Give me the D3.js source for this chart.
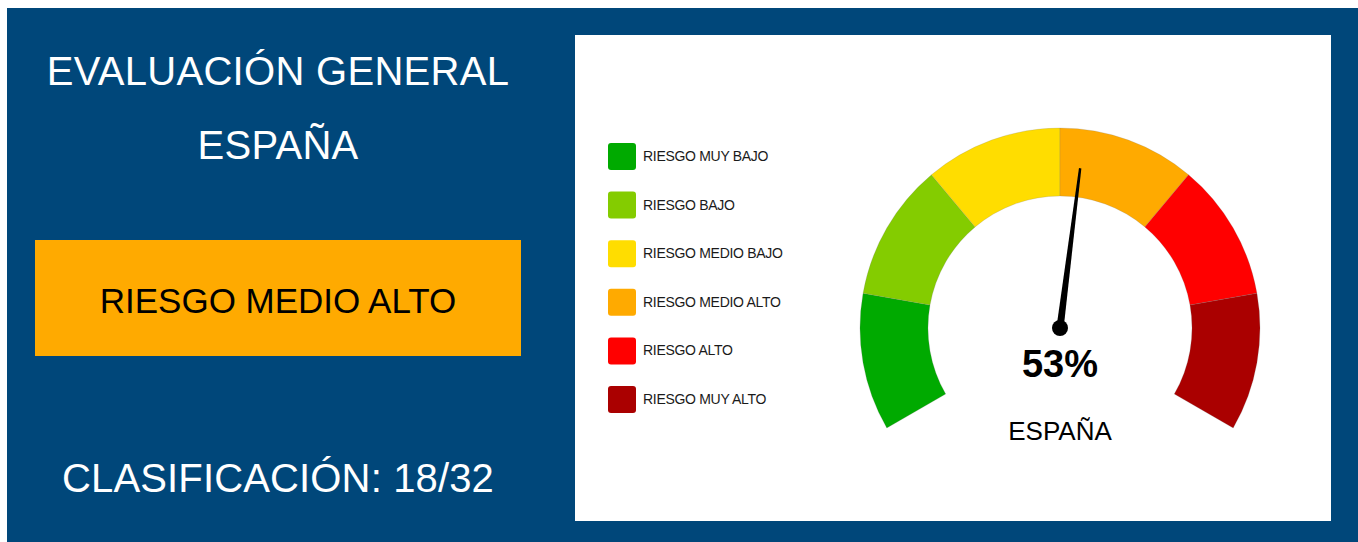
<!DOCTYPE html>
<html>
<head>
<meta charset="utf-8">
<script src="https://cdn.jsdelivr.net/npm/d3@7"></script>
<style>
  html, body { margin: 0; padding: 0; background: #ffffff; }
  svg { display: block; }
  text { font-family: "Liberation Sans", Arial, sans-serif; }
</style>
</head>
<body>
<svg id="chart" width="1358" height="542"></svg>
<script>
// ---- data ----
const riskLabels = ["RIESGO MUY BAJO", "RIESGO BAJO", "RIESGO MEDIO BAJO", "RIESGO MEDIO ALTO", "RIESGO ALTO", "RIESGO MUY ALTO"];
const riskColors = ["#00aa00", "#84cc00", "#ffdd00", "#ffaa00", "#ff0000", "#aa0000"];
const bandBounds = [0, 16.667, 33.333, 50, 66.667, 83.333, 100];
const gaugeValue = 53;
const regionName = "ESPAÑA";
const titleLines = ["EVALUACIÓN GENERAL", "ESPAÑA"];
const currentRisk = "RIESGO MEDIO ALTO";
const rank = 18, rankTotal = 32;

// ---- layout ----
const svg = d3.select("#chart");
const BLUE = "#00477a";

svg.append("rect").attr("x", 7).attr("y", 8).attr("width", 1351).attr("height", 534).attr("fill", BLUE);
svg.append("rect").attr("x", 575).attr("y", 35).attr("width", 756).attr("height", 486).attr("fill", "#ffffff");

// left panel
svg.append("text").attr("x", 278).attr("y", 85).attr("text-anchor", "middle")
  .attr("fill", "#fff").attr("font-size", 40).attr("letter-spacing", 0.3).text(titleLines[0]);
svg.append("text").attr("x", 278).attr("y", 159).attr("text-anchor", "middle")
  .attr("fill", "#fff").attr("font-size", 40).attr("letter-spacing", 0.3).text(titleLines[1]);

const riskIdx = riskLabels.indexOf(currentRisk);
svg.append("rect").attr("x", 35).attr("y", 240).attr("width", 486).attr("height", 116)
  .attr("fill", riskColors[riskIdx]);
svg.append("text").attr("x", 278).attr("y", 313).attr("text-anchor", "middle")
  .attr("fill", "#000").attr("font-size", 35).text(currentRisk);

svg.append("text").attr("x", 278).attr("y", 492).attr("text-anchor", "middle")
  .attr("fill", "#fff").attr("font-size", 40).attr("letter-spacing", 0.15)
  .text(`CLASIFICACIÓN: ${rank}/${rankTotal}`);

// legend
const legendY = d3.scalePoint().domain(riskLabels).range([156.5, 399.5]);
const lg = svg.append("g");
const items = lg.selectAll("g").data(riskLabels).join("g")
  .attr("transform", d => `translate(608,${legendY(d)})`);
items.append("rect").attr("x", 0).attr("y", -13.5).attr("width", 28).attr("height", 27)
  .attr("rx", 3).attr("fill", (d, i) => riskColors[i]);
items.append("text").attr("x", 35).attr("y", 4.5).attr("font-size", 14)
  .attr("letter-spacing", -0.3).attr("fill", "#1a1a1a").text(d => d);

// gauge
const cx = 1060, cy = 328, R = 200, r = 132;
const angle = d3.scaleLinear().domain([0, 100]).range([-120 * Math.PI / 180, 120 * Math.PI / 180]);
const arc = d3.arc().innerRadius(r).outerRadius(R);
const g = svg.append("g").attr("transform", `translate(${cx},${cy})`);
const bands = riskColors.map((c, i) => ({ start: bandBounds[i], end: bandBounds[i + 1], color: c }));
g.selectAll("path.band").data(bands).join("path").attr("class", "band")
  .attr("d", d => arc({ startAngle: angle(d.start), endAngle: angle(d.end) }))
  .attr("fill", d => d.color)
  .attr("stroke", "rgba(120,120,120,0.35)").attr("stroke-width", 0.6);

// needle
const a = angle(gaugeValue);
const L = 161, wBase = 3.6, wTip = 1.2;
const ux = Math.sin(a), uy = -Math.cos(a);
const px = Math.cos(a), py = Math.sin(a);
const pts = [
  [px * wBase, py * wBase],
  [ux * L + px * wTip, uy * L + py * wTip],
  [ux * L - px * wTip, uy * L - py * wTip],
  [-px * wBase, -py * wBase]
];
g.append("path").attr("d", d3.line()(pts) + "Z").attr("fill", "#000");
g.append("circle").attr("r", 8).attr("fill", "#000");

g.append("text").attr("x", 0).attr("y", 49).attr("text-anchor", "middle")
  .attr("font-size", 38).attr("font-weight", "bold").attr("fill", "#000").text(gaugeValue + "%");
g.append("text").attr("x", 0).attr("y", 112).attr("text-anchor", "middle")
  .attr("font-size", 26).attr("fill", "#000").text(regionName);
</script>
</body>
</html>
